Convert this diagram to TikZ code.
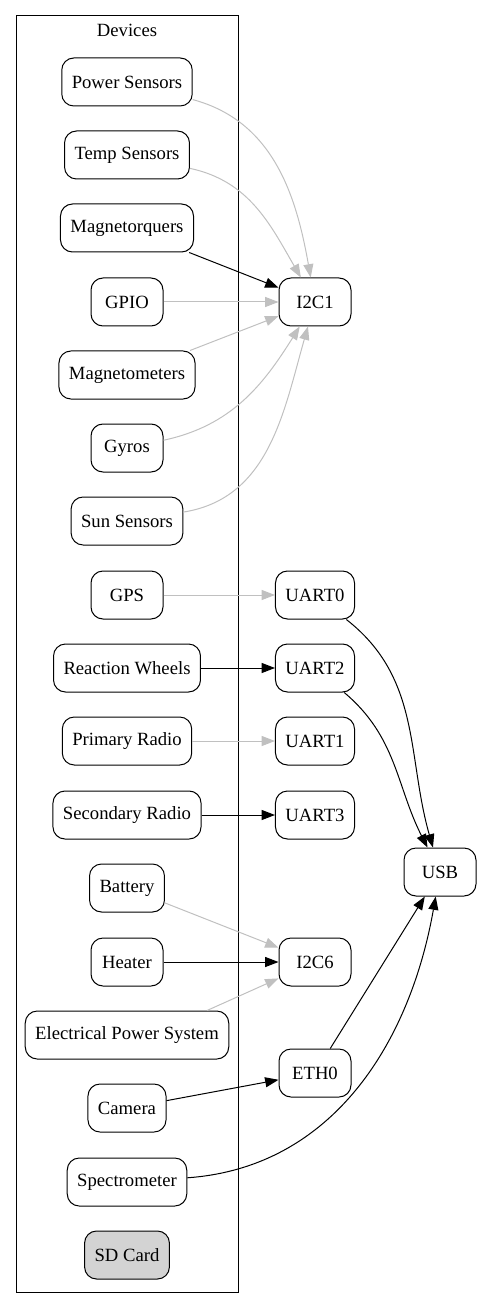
\documentclass[tikz,border=0pt]{standalone}
\usepackage{fontspec}
\setmainfont{Liberation Serif}
\usetikzlibrary{arrows.meta}
\definecolor{faintgray}{HTML}{C0C0C0}
\definecolor{cardgray}{HTML}{D3D3D3}
\tikzset{
dev/.style={draw,rounded corners=9pt,minimum width=54pt,minimum height=36pt,inner xsep=7.5pt,
font=\fontsize{14}{16}\selectfont,line width=0.75pt},
link/.style={-{Triangle[length=10pt,width=7.5pt]},line width=0.75pt,black},
faintlink/.style={link,faintgray},
cluster/.style={draw,line width=0.75pt}
}
\begin{document}
\begin{tikzpicture}[x=0.75pt,y=0.75pt]
\useasboundingbox (0,0) rectangle (481,-1308);
% devices cluster
\draw[cluster] (16,-16) rectangle (238,-1292);
\node[font=\fontsize{14}{16}\selectfont] (devlabel) at (127,-30) {Devices};
\foreach \nm/\txt/\yy in {pwrsens/Power Sensors/82,tempsens/Temp Sensors/155,mtq/Magnetorquers/228,
gpio/GPIO/302,mtm/Magnetometers/375,gyros/Gyros/448,sunsens/Sun Sensors/521,gps/GPS/595,
rw/Reaction Wheels/668,prad/Primary Radio/741,srad/Secondary Radio/815,batt/Battery/888,
heater/Heater/962,eps/Electrical Power System/1035,camera/Camera/1108,spectro/Spectrometer/1182} {
\node[dev] (\nm) at (127,-\yy) {\txt};
}
\node[dev,fill=cardgray] (sdcard) at (127,-1255) {SD Card};
% buses
\foreach \nm/\txt/\yy in {i2c1/I2C1/302,uart0/UART0/595,uart2/UART2/668,uart1/UART1/741,
uart3/UART3/815,i2c6/I2C6/962,eth0/ETH0/1073} {
\node[dev] (\nm) at (315,-\yy) {\txt};
}
\node[dev] (usb) at (440,-872) {USB};
% links
\foreach \a/\b in {gpio/i2c1,mtm/i2c1,gps/uart0,prad/uart1,batt/i2c6} {
\draw[faintlink] (\a) -- (\b);
}
\draw[faintlink] ([xshift=60pt]eps.north) -- (i2c6);
\draw[faintlink] (pwrsens) to[out=-15,in=100] (i2c1);
\draw[faintlink] (tempsens) to[out=-12,in=120] (i2c1);
\draw[faintlink] (gyros) to[out=12,in=-122] (i2c1);
\draw[faintlink] (sunsens) to[out=9,in=-106] (i2c1);
\foreach \a/\b in {mtq/i2c1,rw/uart2,srad/uart3,heater/i2c6,camera/eth0,eth0/usb} {
\draw[link] (\a) -- (\b);
}
\draw[link] (uart0) to[out=-38,in=106] (usb);
\draw[link] (uart2) to[out=-40,in=117] (usb);
\draw[link] (spectro) to[out=4,in=-100] (usb);
\end{tikzpicture}
\end{document}
